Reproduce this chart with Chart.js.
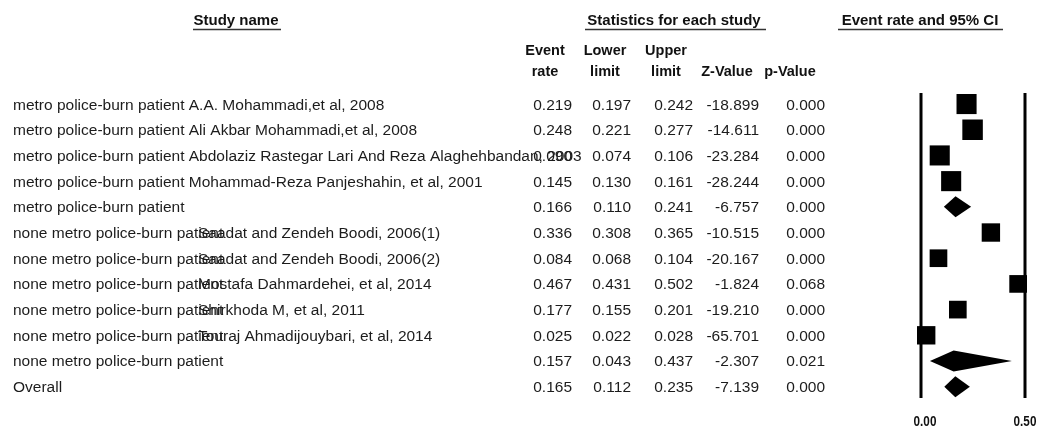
<!DOCTYPE html>
<html><head><meta charset="utf-8">
<script src="https://cdn.jsdelivr.net/npm/chart.js@4.4.1/dist/chart.umd.min.js"></script>
<style>html,body{margin:0;padding:0;background:#fff}#wrap{width:1044px;height:434px}</style>
</head><body><div id="wrap"><canvas id="c" width="1044" height="434"></canvas></div>
<script>
// ---- data ----
const groupNames = [
  'metro police-burn patient','metro police-burn patient','metro police-burn patient','metro police-burn patient',
  'metro police-burn patient',
  'none metro police-burn patient','none metro police-burn patient','none metro police-burn patient','none metro police-burn patient','none metro police-burn patient',
  'none metro police-burn patient',
  'Overall'
];
const studyNames = [
  'A.A. Mohammadi,et al, 2008',
  'Ali Akbar Mohammadi,et al, 2008',
  'Abdolaziz Rastegar Lari And Reza Alaghehbandan, 2003',
  'Mohammad-Reza Panjeshahin, et al, 2001',
  '',
  'Saadat and Zendeh Boodi, 2006(1)',
  'Saadat and Zendeh Boodi, 2006(2)',
  'Mostafa Dahmardehei, et al, 2014',
  'Shirkhoda M, et al, 2011',
  'Touraj Ahmadijouybari, et al, 2014',
  '',
  ''
];
const rowTypes = ['study','study','study','study','summary','study','study','study','study','study','summary','summary'];
const eventRate = [0.219,0.248,0.090,0.145,0.166,0.336,0.084,0.467,0.177,0.025,0.157,0.165];
const lowerLimit = [0.197,0.221,0.074,0.130,0.110,0.308,0.068,0.431,0.155,0.022,0.043,0.112];
const upperLimit = [0.242,0.277,0.106,0.161,0.241,0.365,0.104,0.502,0.201,0.028,0.437,0.235];
const zValue = [-18.899,-14.611,-23.284,-28.244,-6.757,-10.515,-20.167,-1.824,-19.210,-65.701,-2.307,-7.139];
const pValue = [0.000,0.000,0.000,0.000,0.000,0.000,0.000,0.068,0.000,0.000,0.021,0.000];
const axisTicks = [0.00, 0.50];

// ---- styles ----
const FONT = "'Liberation Sans', Arial, sans-serif";
const TEXT_COLOR = '#1c1c1c';
const squareRadius = [14.2,14.5,14.2,14.2,0,13,12.5,12.5,12.5,13,0,0];

const squarePoints = [];
const squareSizes = [];
eventRate.forEach((v,i)=>{ if(rowTypes[i]==='study'){ squarePoints.push({x:v,y:i}); squareSizes.push(squareRadius[i]); } });

const forestPlugin = {
  id:'forest',
  beforeDatasetsDraw(chart){
    const ctx = chart.ctx, xs = chart.scales.x, ys = chart.scales.y, ca = chart.chartArea;
    ctx.save();
    // headers
    ctx.fillStyle = '#111';
    ctx.textBaseline = 'alphabetic';
    ctx.font = 'bold 15px ' + FONT;
    ctx.textAlign = 'center';
    const headers = [
      {t:'Study name', x:236, y:25, ul:[193,281]},
      {t:'Statistics for each study', x:674, y:25, ul:[585,766]},
      {t:'Event rate and 95% CI', x:920, y:25, ul:[838,1003]}
    ];
    headers.forEach(h=>{
      ctx.fillText(h.t, h.x, h.y);
      ctx.beginPath(); ctx.lineWidth = 1.5; ctx.strokeStyle = '#333';
      ctx.moveTo(h.ul[0], 29.5); ctx.lineTo(h.ul[1], 29.5); ctx.stroke();
    });
    const colX = [572,631,693,759,825];
    const colC = [545,605,666,727,790];
    ctx.font = 'bold 14.5px ' + FONT;
    ctx.fillText('Event', colC[0], 55);
    ctx.fillText('Lower', colC[1], 55);
    ctx.fillText('Upper', colC[2], 55);
    ctx.fillText('rate', colC[0], 76);
    ctx.fillText('limit', colC[1], 76);
    ctx.fillText('limit', colC[2], 76);
    ctx.fillText('Z-Value', colC[3], 76);
    ctx.fillText('p-Value', colC[4], 76);

    // rows
    ctx.font = '15.5px ' + FONT;
    ctx.fillStyle = TEXT_COLOR;
    for(let i=0;i<eventRate.length;i++){
      const y = ys.getPixelForValue(i) + 5.5;
      ctx.textAlign = 'left';
      const g = groupNames[i], s = studyNames[i];
      if(s && g.startsWith('none')){
        ctx.fillText(g, 13, y);
        ctx.fillText(s, 198, y);
      } else if(s){
        ctx.fillText(g + ' ' + s, 13, y);
      } else {
        ctx.fillText(g, 13, y);
      }
      ctx.textAlign = 'right';
      ctx.fillText(eventRate[i].toFixed(3), colX[0], y);
      ctx.fillText(lowerLimit[i].toFixed(3), colX[1], y);
      ctx.fillText(upperLimit[i].toFixed(3), colX[2], y);
      ctx.fillText(zValue[i].toFixed(3), colX[3], y);
      ctx.fillText(pValue[i].toFixed(3), colX[4], y);
    }

    // reference lines
    ctx.strokeStyle = '#000'; ctx.lineWidth = 3; ctx.lineCap = 'butt';
    axisTicks.forEach(t=>{
      const x = xs.getPixelForValue(t);
      ctx.beginPath(); ctx.moveTo(x, ca.top); ctx.lineTo(x, ca.bottom); ctx.stroke();
    });
    // tick labels (tall, narrow bold)
    ctx.fillStyle = '#111';
    ctx.font = 'bold 15px ' + FONT;
    ctx.textAlign = 'center';
    axisTicks.forEach(t=>{
      const x = xs.getPixelForValue(t) + (t===0?4:0);
      ctx.save();
      ctx.translate(x, 426);
      ctx.scale(0.78, 1);
      ctx.fillText(t.toFixed(2), 0, 0);
      ctx.restore();
    });

    // CI whiskers and diamonds
    ctx.fillStyle = '#000'; ctx.strokeStyle = '#000'; ctx.lineWidth = 1.5;
    for(let i=0;i<eventRate.length;i++){
      const y = ys.getPixelForValue(i);
      const xl = xs.getPixelForValue(lowerLimit[i]);
      const xe = xs.getPixelForValue(eventRate[i]);
      const xu = xs.getPixelForValue(upperLimit[i]);
      if(rowTypes[i]==='study'){
        ctx.beginPath(); ctx.moveTo(xl,y); ctx.lineTo(xu,y); ctx.stroke();
      } else {
        const h = 10.5;
        ctx.beginPath();
        ctx.moveTo(xl,y); ctx.lineTo(xe,y-h); ctx.lineTo(xu,y); ctx.lineTo(xe,y+h); ctx.closePath();
        ctx.fill();
      }
    }
    ctx.restore();
  }
};

new Chart(document.getElementById('c'), {
  type:'scatter',
  data:{ datasets:[{
    data: squarePoints,
    pointStyle:'rect',
    pointRadius: squareSizes,
    pointHoverRadius: squareSizes,
    backgroundColor:'#000',
    borderColor:'#000',
    borderWidth:0,
    clip:false
  }]},
  options:{
    responsive:false,
    animation:false,
    events:[],
    layout:{ padding:{ left:921, right:19, top:93, bottom:36 } },
    plugins:{ legend:{display:false}, tooltip:{enabled:false} },
    scales:{
      x:{ type:'linear', min:0, max:0.5, display:false },
      y:{ type:'linear', min:-0.43, max:11.44, reverse:true, display:false }
    }
  },
  plugins:[forestPlugin]
});
</script>
</body></html>
